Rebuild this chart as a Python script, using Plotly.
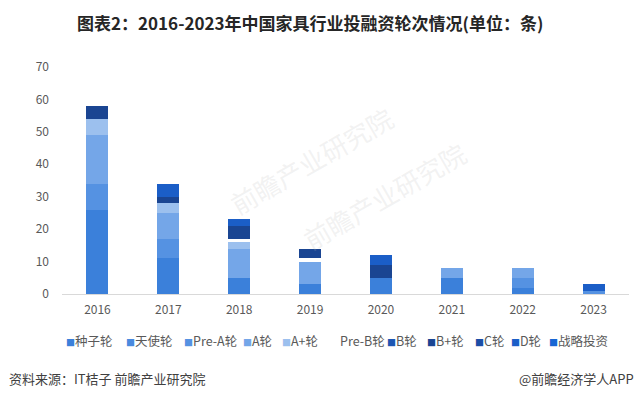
import plotly.graph_objects as go

years = ["2016", "2017", "2018", "2019", "2020", "2021", "2022", "2023"]
series_names = ["种子轮", "天使轮", "Pre-A轮", "A轮", "A+轮", "Pre-B轮", "B轮", "B+轮", "C轮", "D轮", "战略投资"]
seed     = [26, 11, 5, 3, 5, 5, 2, 0]
angel    = [0, 0, 0, 0, 0, 0, 0, 0]
pre_a    = [8, 6, 0, 0, 0, 0, 3, 1]
round_a  = [15, 8, 9, 7, 0, 3, 3, 0]
round_a_plus = [5, 3, 2, 0, 0, 0, 0, 0]
pre_b    = [0, 0, 1, 1, 0, 0, 0, 0]
round_b  = [0, 0, 0, 0, 0, 0, 0, 0]
round_b_plus = [4, 2, 4, 3, 4, 0, 0, 0]
round_c  = [0, 0, 0, 0, 0, 0, 0, 0]
round_d  = [0, 4, 2, 0, 3, 0, 0, 2]
strategic = [0, 0, 0, 0, 0, 0, 0, 0]
series_values = [seed, angel, pre_a, round_a, round_a_plus, pre_b, round_b, round_b_plus, round_c, round_d, strategic]
colors = ["#3b80da", "#4a8ade", "#5592e2", "#74a6e8", "#9cc0ee", "#ffffff",
          "#1d56b2", "#1a4592", "#1c4ea6", "#1b5ec7", "#1766d3"]
y_ticks = [0, 10, 20, 30, 40, 50, 60, 70]

W, H = 641, 399
L, R, T, B = 62, 12, 67, 105
PW, PH = W - L - R, H - T - B
FONT = "Noto Sans CJK SC"


def px_x(px):
    return (px - L) / PW


def px_y(py):
    return ((H - B) - py) / PH


fig = go.Figure()
for name, vals, col in zip(series_names, series_values, colors):
    fig.add_trace(go.Bar(x=years, y=vals, name=name, marker=dict(color=col, line=dict(width=0)),
                         showlegend=False))

# manual legend (marker + label in one text)
legend_px = [67, 127, 185, 244, 283, 332, 388, 428, 476, 512, 550]
for name, col, px in zip(series_names, colors, legend_px):
    fig.add_annotation(x=px_x(px - 2), y=px_y(340), xref="paper", yref="paper",
                       xanchor="left", yanchor="middle", showarrow=False, borderpad=0,
                       text=f"<span style='color:{col};font-size:9px'>■</span>{name}",
                       font=dict(size=12.5, color="#595959", family=FONT))

# watermarks
for wx, wy in [(220, 160), (475, 195)]:
    fig.add_annotation(x=px_x(wx), y=px_y(wy), xref="paper", yref="paper", showarrow=False,
                       text="前瞻产业研究院", textangle=-30,
                       font=dict(size=26, color="rgba(190,190,190,0.2)", family=FONT))

# title and footer
fig.add_annotation(x=px_x(310), y=px_y(22), xref="paper", yref="paper", xanchor="center", yanchor="middle",
                   showarrow=False, text="<b>图表2：2016-2023年中国家具行业投融资轮次情况(单位：条)</b>",
                   font=dict(size=17, color="#262626", family=FONT))
fig.add_annotation(x=px_x(7), y=px_y(378), xref="paper", yref="paper", xanchor="left", yanchor="middle",
                   showarrow=False, text="资料来源：IT桔子 前瞻产业研究院",
                   font=dict(size=13, color="#404040", family=FONT))
fig.add_annotation(x=px_x(636), y=px_y(378), xref="paper", yref="paper", xanchor="right", yanchor="middle",
                   showarrow=False, text="@前瞻经济学人APP",
                   font=dict(size=13, color="#404040", family=FONT))

fig.update_layout(
    width=W, height=H, margin=dict(l=L, r=R, t=T, b=B),
    paper_bgcolor="white", plot_bgcolor="white",
    barmode="stack", bargap=0.69,
    font=dict(family=FONT, color="#595959"),
    xaxis=dict(showline=True, linecolor="#d9d9d9", linewidth=1, ticks="", showgrid=False,
               tickfont=dict(size=12, color="#595959"), ticklabelstandoff=5),
    yaxis=dict(range=[0, 70], tickvals=y_ticks, showgrid=False, zeroline=False, showline=False,
               tickfont=dict(size=12, color="#595959"), ticklabelstandoff=12),
)
fig.write_html("out.html", config={"displayModeBar": False},
               post_script="document.body.style.margin='0';document.body.style.overflow='hidden';")
